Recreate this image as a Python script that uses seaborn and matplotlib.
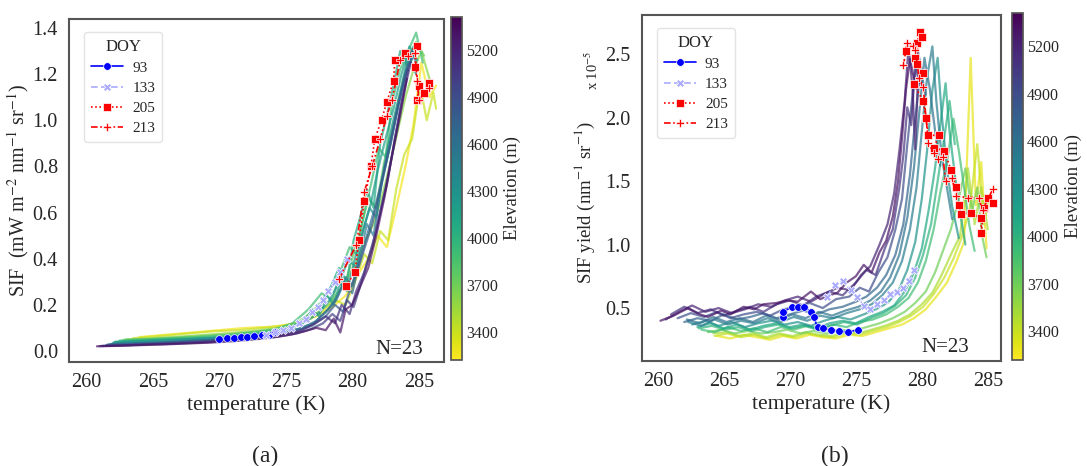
import pandas as pd
import matplotlib
import matplotlib.pyplot as plt
import seaborn as sns

# --- elevation lines, panel (a): SIF vs temperature ---
elev_a = [5300, 5100, 5000, 4800, 4650, 4500, 4300, 4200, 4100, 3900, 3750, 3600, 3400, 3250]
temp_a = [
    [260.8, 262.4, 264.0, 265.8, 267.5, 269.3, 271.0, 272.6, 274.0, 275.3, 276.4, 277.3, 278.0, 278.6, 279.1, 279.5, 280.0, 280.6, 281.2, 281.8, 282.4, 283.0, 283.6, 284.1],
    [261.2, 263.0, 264.8, 266.6, 268.5, 270.3, 272.0, 273.5, 275.0, 276.2, 277.2, 278.0, 278.7, 279.2, 279.8, 280.3, 280.9, 281.5, 282.0, 282.6, 283.2, 283.8, 284.4],
    [261.0, 263.0, 265.0, 267.0, 269.0, 271.0, 272.8, 274.4, 275.8, 276.9, 277.8, 278.5, 279.1, 279.6, 280.1, 280.7, 281.2, 281.8, 282.4, 283.0, 283.6, 284.2],
    [261.5, 263.5, 265.5, 267.4, 269.2, 271.0, 272.8, 274.4, 275.8, 277.0, 278.0, 278.7, 279.3, 279.9, 280.4, 281.0, 281.5, 282.1, 282.7, 283.3, 283.9, 284.5],
    [261.6, 263.6, 265.6, 267.6, 269.6, 271.4, 273.1, 274.7, 276.0, 277.1, 278.0, 278.8, 279.4, 280.0, 280.5, 281.1, 281.7, 282.3, 282.9, 283.5, 284.1, 284.7],
    [261.8, 263.8, 265.8, 267.8, 269.8, 271.6, 273.3, 274.9, 276.2, 277.3, 278.2, 278.9, 279.5, 280.0, 280.6, 281.1, 281.6, 282.2, 282.8, 283.4, 284.0, 284.6, 285.0],
    [262.0, 264.0, 266.0, 268.0, 270.0, 271.8, 273.5, 275.0, 276.3, 277.4, 278.3, 279.0, 279.6, 280.2, 280.7, 281.3, 281.8, 282.4, 283.0, 283.6, 284.2, 284.8],
    [262.1, 264.1, 266.1, 268.1, 270.1, 271.9, 273.6, 275.1, 276.4, 277.0, 277.5, 278.1, 278.6, 279.2, 279.7, 280.3, 280.8, 281.4, 281.9, 282.5, 283.1, 283.7, 284.3, 284.9],
    [262.2, 264.2, 266.2, 268.2, 270.2, 272.0, 273.8, 275.3, 276.6, 277.6, 278.4, 279.0, 279.6, 280.1, 280.6, 281.1, 281.6, 282.1, 282.6, 283.1, 283.6, 284.1, 284.6],
    [262.5, 264.5, 266.5, 268.5, 270.5, 272.3, 274.0, 275.5, 276.7, 277.7, 278.5, 279.2, 279.8, 280.3, 280.9, 281.4, 282.0, 282.5, 283.0, 283.6, 284.2, 284.8, 285.3],
    [262.8, 264.8, 266.8, 268.8, 270.8, 272.6, 274.3, 275.8, 277.0, 277.9, 278.7, 279.4, 280.0, 280.6, 281.2, 281.8, 282.4, 283.0, 283.6, 284.2, 284.8, 285.4],
    [263.0, 265.0, 267.0, 269.0, 271.0, 272.8, 274.5, 276.0, 277.2, 278.2, 279.0, 279.7, 280.4, 281.0, 281.6, 282.2, 282.8, 283.4, 284.0, 284.6, 285.2, 285.8],
    [263.5, 265.5, 267.5, 269.5, 271.5, 273.3, 275.0, 276.5, 277.7, 278.7, 279.5, 280.2, 280.9, 281.5, 282.1, 282.7, 283.3, 283.9, 284.5, 285.1, 285.6, 286.1, 286.3],
    [264.0, 266.0, 268.0, 270.0, 272.0, 274.0, 275.8, 277.3, 278.5, 279.5, 280.4, 281.2, 281.9, 282.6, 283.3, 284.0, 284.6, 285.2, 285.8, 286.3],
]
sif_a = [
    [0.020, 0.022, 0.025, 0.028, 0.032, 0.036, 0.042, 0.050, 0.058, 0.070, 0.085, 0.10, 0.09, 0.14, 0.08, 0.18, 0.20, 0.28, 0.36, 0.50, 0.66, 0.85, 1.02, 1.18],
    [0.022, 0.025, 0.030, 0.033, 0.038, 0.045, 0.052, 0.060, 0.075, 0.09, 0.12, 0.15, 0.12, 0.20, 0.16, 0.26, 0.34, 0.45, 0.58, 0.72, 0.92, 1.10, 1.25],
    [0.021, 0.024, 0.028, 0.032, 0.037, 0.044, 0.053, 0.062, 0.075, 0.095, 0.12, 0.16, 0.13, 0.22, 0.19, 0.30, 0.40, 0.52, 0.68, 0.85, 1.05, 1.22],
    [0.025, 0.030, 0.034, 0.040, 0.045, 0.052, 0.060, 0.070, 0.085, 0.11, 0.15, 0.20, 0.17, 0.28, 0.35, 0.46, 0.55, 0.70, 0.86, 1.02, 1.18, 1.30],
    [0.028, 0.032, 0.036, 0.042, 0.048, 0.055, 0.065, 0.078, 0.095, 0.12, 0.17, 0.22, 0.30, 0.25, 0.38, 0.50, 0.62, 0.76, 0.90, 1.08, 1.22, 1.30],
    [0.030, 0.034, 0.038, 0.044, 0.050, 0.058, 0.068, 0.080, 0.10, 0.13, 0.18, 0.24, 0.32, 0.28, 0.42, 0.55, 0.50, 0.72, 0.88, 1.05, 1.20, 1.28, 1.22],
    [0.035, 0.040, 0.044, 0.050, 0.056, 0.064, 0.075, 0.090, 0.12, 0.16, 0.22, 0.30, 0.26, 0.40, 0.50, 0.62, 0.58, 0.80, 0.98, 1.12, 1.28, 1.20],
    [0.038, 0.042, 0.047, 0.052, 0.058, 0.066, 0.078, 0.095, 0.13, 0.18, 0.15, 0.24, 0.20, 0.32, 0.40, 0.36, 0.52, 0.64, 0.78, 0.92, 1.05, 1.20, 1.32, 1.26],
    [0.040, 0.045, 0.050, 0.055, 0.060, 0.070, 0.082, 0.10, 0.14, 0.20, 0.28, 0.36, 0.30, 0.48, 0.58, 0.70, 0.62, 0.90, 1.02, 1.15, 1.30, 1.24, 1.32],
    [0.045, 0.050, 0.055, 0.060, 0.068, 0.078, 0.090, 0.12, 0.18, 0.25, 0.22, 0.36, 0.45, 0.42, 0.60, 0.72, 0.88, 0.84, 1.08, 1.22, 1.30, 1.38, 1.25],
    [0.048, 0.052, 0.058, 0.065, 0.072, 0.082, 0.095, 0.12, 0.17, 0.23, 0.30, 0.28, 0.40, 0.52, 0.66, 0.62, 0.82, 0.96, 1.12, 1.26, 1.34, 1.28],
    [0.050, 0.055, 0.062, 0.070, 0.078, 0.088, 0.10, 0.12, 0.16, 0.20, 0.26, 0.32, 0.40, 0.48, 0.55, 0.66, 0.80, 0.95, 1.10, 1.22, 1.30, 1.18],
    [0.055, 0.065, 0.075, 0.085, 0.090, 0.10, 0.11, 0.13, 0.17, 0.22, 0.20, 0.30, 0.42, 0.38, 0.52, 0.48, 0.70, 0.85, 0.92, 1.15, 1.00, 1.12, 1.05],
    [0.060, 0.070, 0.080, 0.090, 0.10, 0.105, 0.12, 0.15, 0.19, 0.24, 0.33, 0.40, 0.50, 0.45, 0.62, 0.80, 0.98, 1.25, 1.10, 1.15],
]

# --- elevation lines, panel (b): SIF yield (x 1e-5) vs temperature ---
elev_b = [5300, 5200, 5100, 4900, 4700, 4600, 4500, 4300, 4100, 4000, 3900, 3700, 3500, 3400, 3300]
temp_b = [
    [260.2, 261.2, 262.3, 263.2, 263.8, 264.8, 265.5, 266.5, 267.3, 268.0, 269.0, 269.8, 270.6, 271.6, 272.3, 273.0, 273.6, 274.3, 275.0, 275.6, 276.2, 276.8, 277.3, 277.8, 278.2, 278.5, 278.8, 279.1, 279.4],
    [260.6, 261.6, 262.6, 263.6, 264.6, 265.6, 266.6, 267.6, 268.6, 269.6, 270.6, 271.6, 272.6, 273.6, 274.6, 275.4, 276.1, 276.8, 277.4, 277.9, 278.3, 278.7, 279.0, 279.3, 279.5, 279.7],
    [261.0, 262.0, 263.0, 264.0, 265.0, 266.0, 267.0, 268.0, 269.0, 270.0, 271.0, 272.0, 273.0, 274.0, 275.0, 275.8, 276.5, 277.2, 277.8, 278.3, 278.6, 278.9, 279.2, 279.5, 279.8],
    [261.5, 262.5, 263.5, 264.5, 265.5, 266.5, 267.5, 268.5, 269.5, 270.5, 271.5, 272.5, 273.5, 274.5, 275.3, 276.0, 276.7, 277.4, 278.0, 278.5, 278.9, 279.3, 279.7, 280.1],
    [262.0, 263.0, 264.0, 265.0, 266.0, 267.0, 268.0, 269.0, 270.0, 271.0, 272.0, 273.0, 274.0, 275.0, 275.8, 276.6, 277.3, 278.0, 278.6, 279.1, 279.5, 279.9, 280.3],
    [262.2, 263.2, 264.2, 265.2, 266.2, 267.2, 268.2, 269.2, 270.2, 271.2, 272.2, 273.2, 274.2, 275.2, 276.1, 276.9, 277.6, 278.3, 278.9, 279.4, 279.8, 280.2, 280.6, 281.0, 281.4],
    [262.3, 263.3, 264.3, 265.3, 266.3, 267.3, 268.3, 269.3, 270.3, 271.3, 272.3, 273.3, 274.3, 275.3, 276.2, 277.0, 277.8, 278.5, 279.1, 279.6, 280.0, 280.4, 280.8, 281.1, 281.5, 281.9, 282.3],
    [262.6, 263.6, 264.6, 265.6, 266.6, 267.6, 268.6, 269.6, 270.6, 271.6, 272.6, 273.6, 274.6, 275.6, 276.5, 277.4, 278.2, 278.9, 279.5, 280.0, 280.4, 280.8, 281.2, 281.5, 281.9, 282.3, 282.8],
    [263.0, 264.0, 265.0, 266.0, 267.0, 268.0, 269.0, 270.0, 271.0, 272.0, 273.0, 274.0, 275.0, 276.0, 277.0, 277.9, 278.7, 279.4, 280.0, 280.5, 281.0, 281.4, 281.8, 282.1, 282.5, 282.9, 283.3],
    [263.1, 264.1, 265.1, 266.1, 267.1, 268.1, 269.1, 270.1, 271.1, 272.1, 273.1, 274.1, 275.1, 276.1, 277.1, 278.0, 278.8, 279.5, 280.1, 280.7, 281.2, 281.7, 282.1, 282.5],
    [263.3, 264.3, 265.3, 266.3, 267.3, 268.3, 269.3, 270.3, 271.3, 272.3, 273.3, 274.3, 275.3, 276.3, 277.3, 278.2, 279.0, 279.7, 280.3, 280.9, 281.4, 281.9, 282.4, 282.8, 283.2, 283.6, 284.0],
    [263.8, 264.8, 265.8, 266.8, 267.8, 268.8, 269.8, 270.8, 271.8, 272.8, 273.8, 274.8, 275.8, 276.8, 277.8, 278.7, 279.5, 280.3, 281.0, 281.6, 282.2, 282.8, 283.3, 283.8, 284.2, 284.6, 284.9],
    [264.2, 265.2, 266.2, 267.2, 268.2, 269.2, 270.2, 271.2, 272.2, 273.2, 274.2, 275.2, 276.2, 277.2, 278.2, 279.1, 280.0, 280.8, 281.5, 282.2, 282.9, 283.5, 284.0, 284.5, 285.0],
    [264.3, 265.3, 266.3, 267.3, 268.3, 269.3, 270.3, 271.3, 272.3, 273.3, 274.3, 275.3, 276.3, 277.3, 278.3, 279.2, 280.1, 280.9, 281.7, 282.4, 283.0, 283.6, 284.2, 284.7, 285.1],
    [264.5, 265.5, 266.5, 267.5, 268.5, 269.5, 270.5, 271.5, 272.5, 273.5, 274.5, 275.5, 276.5, 277.5, 278.5, 279.4, 280.3, 281.1, 281.9, 282.6, 283.2, 283.7, 284.1, 284.5, 284.9],
]
yield_b = [
    [0.40, 0.44, 0.50, 0.45, 0.43, 0.48, 0.45, 0.51, 0.49, 0.53, 0.54, 0.56, 0.55, 0.63, 0.57, 0.60, 0.62, 0.70, 0.75, 0.84, 0.78, 0.94, 1.03, 1.22, 1.50, 1.84, 2.22, 2.46, 2.31],
    [0.41, 0.47, 0.52, 0.47, 0.50, 0.46, 0.49, 0.53, 0.51, 0.56, 0.59, 0.55, 0.61, 0.66, 0.64, 0.76, 0.83, 1.00, 1.16, 1.40, 1.74, 2.13, 2.56, 2.22, 1.75, 2.30],
    [0.45, 0.51, 0.46, 0.49, 0.44, 0.48, 0.51, 0.47, 0.53, 0.56, 0.52, 0.59, 0.63, 0.60, 0.70, 0.80, 0.76, 0.97, 1.12, 1.45, 1.70, 2.08, 1.94, 2.42, 2.27],
    [0.42, 0.46, 0.43, 0.47, 0.42, 0.45, 0.47, 0.44, 0.49, 0.51, 0.54, 0.50, 0.57, 0.59, 0.66, 0.63, 0.78, 0.90, 1.12, 1.36, 1.79, 2.18, 2.52, 2.32],
    [0.39, 0.42, 0.40, 0.45, 0.41, 0.43, 0.46, 0.42, 0.45, 0.48, 0.45, 0.49, 0.51, 0.55, 0.59, 0.66, 0.76, 0.92, 1.16, 1.55, 1.98, 2.37, 2.18],
    [0.41, 0.38, 0.43, 0.39, 0.42, 0.39, 0.44, 0.41, 0.45, 0.42, 0.47, 0.44, 0.48, 0.51, 0.56, 0.63, 0.74, 0.92, 1.21, 1.60, 2.03, 2.47, 2.23, 1.90, 1.62],
    [0.39, 0.36, 0.41, 0.37, 0.40, 0.38, 0.42, 0.39, 0.43, 0.40, 0.44, 0.42, 0.46, 0.49, 0.53, 0.60, 0.70, 0.87, 1.12, 1.45, 1.89, 2.32, 2.56, 2.13, 1.70, 1.45, 1.20],
    [0.37, 0.40, 0.36, 0.39, 0.35, 0.38, 0.40, 0.37, 0.39, 0.36, 0.40, 0.43, 0.41, 0.45, 0.49, 0.54, 0.63, 0.80, 1.02, 1.36, 1.74, 2.22, 2.47, 2.03, 1.60, 1.30, 1.05],
    [0.35, 0.38, 0.34, 0.37, 0.33, 0.36, 0.38, 0.35, 0.37, 0.34, 0.38, 0.40, 0.38, 0.43, 0.47, 0.52, 0.63, 0.78, 0.97, 1.26, 1.60, 1.94, 2.27, 1.89, 1.55, 1.25, 1.00],
    [0.34, 0.36, 0.33, 0.35, 0.32, 0.35, 0.37, 0.34, 0.36, 0.33, 0.36, 0.39, 0.37, 0.42, 0.46, 0.52, 0.60, 0.74, 0.92, 1.16, 1.50, 1.84, 2.13, 1.79],
    [0.33, 0.31, 0.35, 0.32, 0.34, 0.31, 0.35, 0.33, 0.36, 0.34, 0.37, 0.35, 0.39, 0.41, 0.45, 0.51, 0.58, 0.70, 0.87, 1.12, 1.41, 1.65, 1.99, 1.74, 1.45, 1.15, 0.95],
    [0.31, 0.33, 0.30, 0.32, 0.30, 0.31, 0.33, 0.30, 0.32, 0.30, 0.33, 0.32, 0.35, 0.38, 0.42, 0.47, 0.54, 0.63, 0.78, 0.95, 1.12, 1.36, 1.60, 1.26, 1.45, 1.05, 0.90],
    [0.30, 0.31, 0.28, 0.30, 0.27, 0.30, 0.28, 0.31, 0.29, 0.28, 0.31, 0.30, 0.33, 0.36, 0.40, 0.45, 0.53, 0.62, 0.76, 0.92, 1.07, 1.60, 1.16, 1.45, 1.12],
    [0.28, 0.30, 0.27, 0.29, 0.26, 0.29, 0.27, 0.30, 0.28, 0.27, 0.30, 0.29, 0.32, 0.35, 0.39, 0.44, 0.51, 0.61, 0.74, 0.89, 1.05, 1.26, 1.79, 1.16, 1.36],
    [0.28, 0.26, 0.29, 0.27, 0.25, 0.28, 0.26, 0.29, 0.27, 0.26, 0.29, 0.28, 0.31, 0.34, 0.37, 0.42, 0.49, 0.59, 0.70, 0.86, 1.02, 2.47, 1.31, 1.65, 0.97],
]

# --- DOY series ---
doy_labels = [93, 133, 205, 213]
doy_temp_a = [
    [270.0, 270.6, 271.1, 271.6, 272.1, 272.6, 273.2, 273.7, 274.2],
    [273.5, 274.2, 274.8, 275.4, 276.0, 276.5, 277.0, 277.4, 277.8, 278.2, 278.7, 279.1, 279.6],
    [279.5, 280.2, 280.5, 280.9, 281.4, 281.7, 282.2, 282.6, 283.1, 283.2, 284.0, 284.9, 284.7, 285.0, 284.9, 285.4, 285.8],
    [279.0, 280.3, 280.9, 281.5, 282.1, 282.6, 283.0, 283.6, 284.2, 284.7, 284.9, 285.0, 285.8],
]
doy_sif_a = [
    [0.05, 0.055, 0.055, 0.06, 0.06, 0.065, 0.07, 0.07, 0.08],
    [0.07, 0.08, 0.09, 0.10, 0.12, 0.14, 0.17, 0.19, 0.22, 0.26, 0.30, 0.34, 0.40],
    [0.28, 0.34, 0.48, 0.65, 0.80, 0.92, 1.00, 1.08, 1.17, 1.26, 1.29, 1.32, 1.23, 1.15, 1.09, 1.12, 1.16],
    [0.31, 0.46, 0.69, 0.80, 0.92, 1.02, 1.09, 1.26, 1.28, 1.29, 1.17, 1.09, 1.14],
]
doy_temp_b = [
    [269.5, 269.5, 270.2, 270.6, 271.1, 271.6, 271.8, 272.1, 272.5, 273.1, 273.7, 274.4, 275.2],
    [272.8, 273.4, 274.0, 274.6, 275.1, 275.6, 276.1, 276.6, 277.1, 277.6, 278.1, 278.6, 279.0, 279.4],
    [278.8, 279.6, 279.9, 280.0, 279.5, 279.6, 280.1, 279.4, 280.1, 280.3, 280.5, 281.3, 280.9, 281.7, 282.2, 282.6, 282.8, 283.0, 283.7, 284.5, 284.5, 284.7, 285.0, 285.4],
    [278.6, 278.9, 279.3, 279.5, 279.8, 280.1, 280.5, 280.9, 281.2, 281.6, 281.8, 282.3, 282.6, 283.5, 284.3, 284.6, 285.4],
]
doy_yield_b = [
    [0.43, 0.47, 0.51, 0.51, 0.51, 0.47, 0.43, 0.35, 0.34, 0.33, 0.32, 0.31, 0.33],
    [0.59, 0.68, 0.71, 0.64, 0.59, 0.52, 0.49, 0.53, 0.56, 0.61, 0.63, 0.66, 0.71, 0.80],
    [2.52, 2.59, 2.67, 2.63, 2.47, 2.42, 2.35, 2.26, 2.13, 2.00, 1.86, 1.86, 1.76, 1.74, 1.59, 1.45, 1.31, 1.24, 1.25, 1.21, 1.09, 1.29, 1.37, 1.33],
    [2.41, 2.59, 2.56, 2.53, 2.31, 2.24, 1.80, 1.72, 1.67, 1.69, 1.50, 1.52, 1.38, 1.37, 1.37, 1.27, 1.44],
]

elev_ticks = [3400, 3700, 4000, 4300, 4600, 4900, 5200]
elev_min, elev_max = 3220, 5410

doy_colors = {93: '#0000ff', 133: '#aaaaff', 205: '#ff0000', 213: '#ff0000'}
doy_markers = {93: 'o', 133: 'X', 205: 's', 213: 'P'}
doy_dashes = {93: '', 133: (4, 2), 205: (1, 1.5), 213: (4, 1.5, 1, 1.5)}


def lines_frame(elevs, temps, vals):
    rows = []
    for i, (e, ts, vs) in enumerate(zip(elevs, temps, vals)):
        for t, v in zip(ts, vs):
            rows.append({'line': i, 'elev': e, 'temp': t, 'val': v})
    return pd.DataFrame(rows)


def doy_frame(temps, vals):
    rows = []
    for d, ts, vs in zip(doy_labels, temps, vals):
        for t, v in zip(ts, vs):
            rows.append({'DOY': d, 'temp': t, 'val': v})
    return pd.DataFrame(rows)


sns.set_theme(style='white')
plt.rcParams['font.family'] = ['Liberation Serif', 'DejaVu Serif']
plt.rcParams['mathtext.fontset'] = 'stix'

fig = plt.figure(figsize=(10.87, 4.66), dpi=100)
ax_a = fig.add_axes([0.0635, 0.2232, 0.345, 0.7360])
cax_a = fig.add_axes([0.415, 0.2275, 0.0101, 0.736])
ax_b = fig.add_axes([0.5906, 0.2253, 0.3303, 0.7425])
cax_b = fig.add_axes([0.931, 0.2275, 0.0101, 0.7446])

norm = matplotlib.colors.Normalize(vmin=elev_min, vmax=elev_max)
panels = [
    (ax_a, cax_a, lines_frame(elev_a, temp_a, sif_a), doy_frame(doy_temp_a, doy_sif_a)),
    (ax_b, cax_b, lines_frame(elev_b, temp_b, yield_b), doy_frame(doy_temp_b, doy_yield_b)),
]

for ax, cax, df_lines, df_doy in panels:
    sns.lineplot(data=df_lines, x='temp', y='val', hue='elev', units='line',
                 estimator=None, sort=False, palette='viridis_r', hue_norm=norm,
                 legend=False, alpha=0.7, lw=1.6, ax=ax)
    sns.lineplot(data=df_doy, x='temp', y='val', hue='DOY', style='DOY',
                 palette=doy_colors, markers=doy_markers, dashes=doy_dashes,
                 sort=False, estimator=None, lw=1.2, markersize=5.5,
                 markeredgecolor='white', markeredgewidth=0.5, ax=ax)
    leg = ax.legend(title='DOY', loc='upper left', bbox_to_anchor=(0.02, 0.985),
                    fontsize=11, title_fontsize=12, frameon=True, fancybox=True,
                    handlelength=2.1, handletextpad=0.6, borderpad=0.45,
                    labelspacing=0.42)
    leg.get_frame().set_edgecolor('#dddddd')
    for sp in ax.spines.values():
        sp.set_edgecolor('#555555')
        sp.set_linewidth(1.5)
    ax.tick_params(labelsize=14.5, pad=2)
    ax.set_xticks([260, 265, 270, 275, 280, 285])
    ax.set_xlabel('temperature (K)', fontsize=15.5, labelpad=2)

    sm = matplotlib.cm.ScalarMappable(norm=norm, cmap='viridis_r')
    cb = fig.colorbar(sm, cax=cax, ticks=elev_ticks)
    cb.outline.set_edgecolor('#555555')
    cb.ax.tick_params(labelsize=11.5, length=0, pad=3)
    cb.set_label('Elevation (m)', fontsize=13.5, labelpad=4)

ax_a.set_xlim(258.7, 286.9)
ax_a.set_ylim(-0.048, 1.439)
ax_a.set_yticks([0.0, 0.2, 0.4, 0.6, 0.8, 1.0, 1.2, 1.4])
ax_a.set_ylabel(r'SIF  (mW m$^{-2}$ nm$^{-1}$ sr$^{-1}$)', fontsize=14.5)
ax_a.yaxis.set_label_coords(-0.101, 0.5)
ax_a.text(0.88, 0.035, 'N=23', transform=ax_a.transAxes, fontsize=15, ha='center', va='center')

ax_b.set_xlim(258.8, 286.0)
ax_b.set_ylim(0.083, 2.807)
ax_b.set_yticks([0.5, 1.0, 1.5, 2.0, 2.5])
ax_b.set_ylabel(r'SIF yield (nm$^{-1}$ sr$^{-1}$)', fontsize=13.5)
ax_b.yaxis.set_label_coords(-0.125, 0.46)
ax_b.text(0.845, 0.04, 'N=23', transform=ax_b.transAxes, fontsize=15, ha='center', va='center')
fig.text(0.5445, 0.85, r'x 10$^{-5}$', rotation=90, fontsize=10.5, ha='center', va='center')

fig.text(0.244, 0.02, '(a)', fontsize=17, ha='center', va='center')
fig.text(0.768, 0.02, '(b)', fontsize=17, ha='center', va='center')

fig.savefig('out.png', dpi=100)
